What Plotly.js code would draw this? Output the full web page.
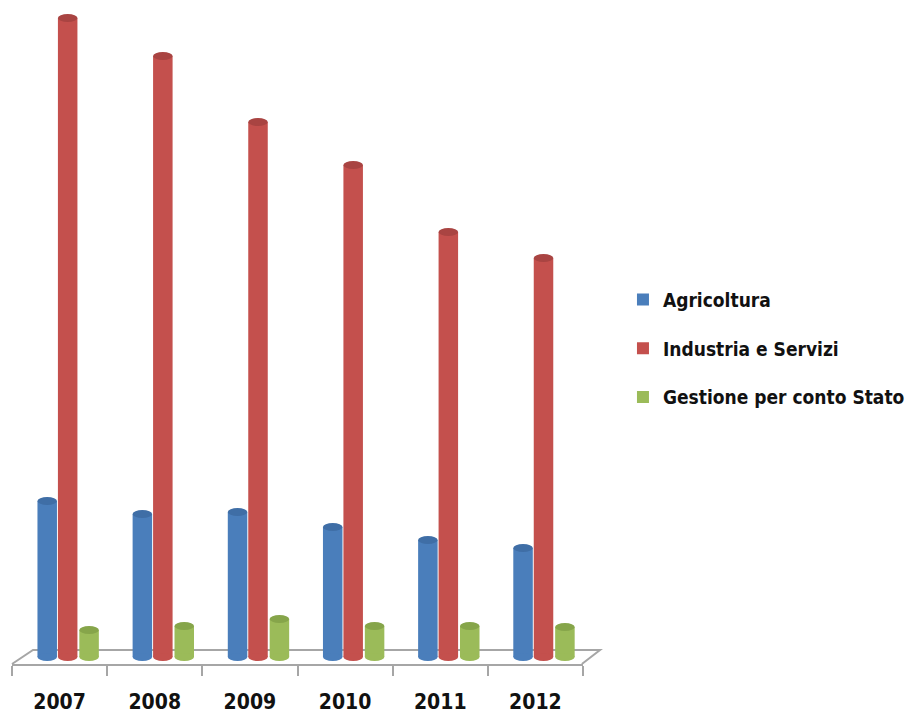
<!DOCTYPE html>
<html>
<head>
<meta charset="utf-8">
<script src="https://cdn.plot.ly/plotly-3.0.1.min.js"></script>
<style>
  html, body { margin: 0; padding: 0; background: #ffffff; }
  #chart { width: 905px; height: 713px; }
</style>
</head>
<body>
<div id="chart"></div>
<script>
// Years on the category axis
const years = ['2007', '2008', '2009', '2010', '2011', '2012'];

// Series values
const agricoltura = [156, 143, 145, 130, 117, 109];
const industriaServizi = [639, 601, 535, 492, 425, 399];
const gestioneStato = [27, 31, 38, 31, 31, 30];

const seriesNames = ['Agricoltura', 'Industria e Servizi', 'Gestione per conto Stato'];
const seriesValues = [agricoltura, industriaServizi, gestioneStato];
const sideColors = ['#4a7ebb', '#c4504d', '#9bbb59'];
const capColors = ['#3f6ea6', '#a94442', '#86a54a'];

// Horizontal placement of each cylinder inside its year slot (category units)
const barWidth = 0.205;
const barOffsets = [-0.2325, -0.0175, 0.2075];

const font = 'DejaVu Sans Condensed, Liberation Sans Narrow, Arial Narrow, sans-serif';

const traces = seriesNames.map((name, k) => ({
  type: 'bar',
  name: name,
  legendgroup: 'g' + k,
  x: years,
  y: seriesValues[k],
  width: barWidth,
  offset: barOffsets[k],
  marker: { color: sideColors[k], line: { width: 0 } },
  hoverinfo: 'x+y+name'
}));

// Elliptical top and bottom faces of the cylinders, anchored on each value
const shapes = [];
seriesValues.forEach((vals, k) => {
  vals.forEach((v, i) => {
    const x0 = i + barOffsets[k];
    const x1 = x0 + barWidth;
    // bottom face
    shapes.push({
      type: 'circle', layer: 'above', xref: 'x', yref: 'y',
      x0: x0, x1: x1, ysizemode: 'pixel', yanchor: 0, y0: -4, y1: 4,
      fillcolor: sideColors[k], line: { width: 0 }
    });
    // top face
    shapes.push({
      type: 'circle', layer: 'above', xref: 'x', yref: 'y',
      x0: x0, x1: x1, ysizemode: 'pixel', yanchor: v, y0: -4, y1: 4,
      fillcolor: capColors[k], line: { width: 0 }
    });
  });
});

// Floor of the 3-D plot (back edge and the two sides)
shapes.unshift({
  type: 'path', layer: 'below', xref: 'paper', yref: 'paper',
  path: 'M 0,0 L 0.0368,0.0214 L 1.0298,0.0214 L 0.998,0',
  line: { color: '#a6a6a6', width: 2 }
});

const layout = {
  width: 905,
  height: 713,
  margin: { l: 12, r: 322, t: 10, b: 49, autoexpand: false },
  paper_bgcolor: '#ffffff',
  plot_bgcolor: 'rgba(0,0,0,0)',
  showlegend: true,
  legend: {
    x: 1.07, xanchor: 'left',
    y: 0.482, yanchor: 'middle',
    font: { family: font, size: 19, color: '#111111', weight: 'bold' },
    tracegroupgap: 21,
    traceorder: 'grouped',
    bgcolor: 'rgba(0,0,0,0)'
  },
  xaxis: {
    type: 'category',
    range: [-0.5, 5.5],
    showgrid: false,
    zeroline: false,
    showline: true,
    linecolor: '#a6a6a6',
    linewidth: 2,
    ticks: 'outside',
    tickson: 'boundaries',
    ticklen: 10,
    tickwidth: 2,
    tickcolor: '#a6a6a6',
    ticklabelstandoff: 18,
    tickfont: { family: font, size: 21, color: '#111111', weight: 'bold' },
    fixedrange: true
  },
  yaxis: {
    range: [-7, 647],
    showgrid: false,
    zeroline: false,
    showline: false,
    showticklabels: false,
    ticks: '',
    fixedrange: true
  },
  shapes: shapes
};

Plotly.newPlot('chart', traces, layout, { displayModeBar: false, staticPlot: true });
</script>
</body>
</html>
